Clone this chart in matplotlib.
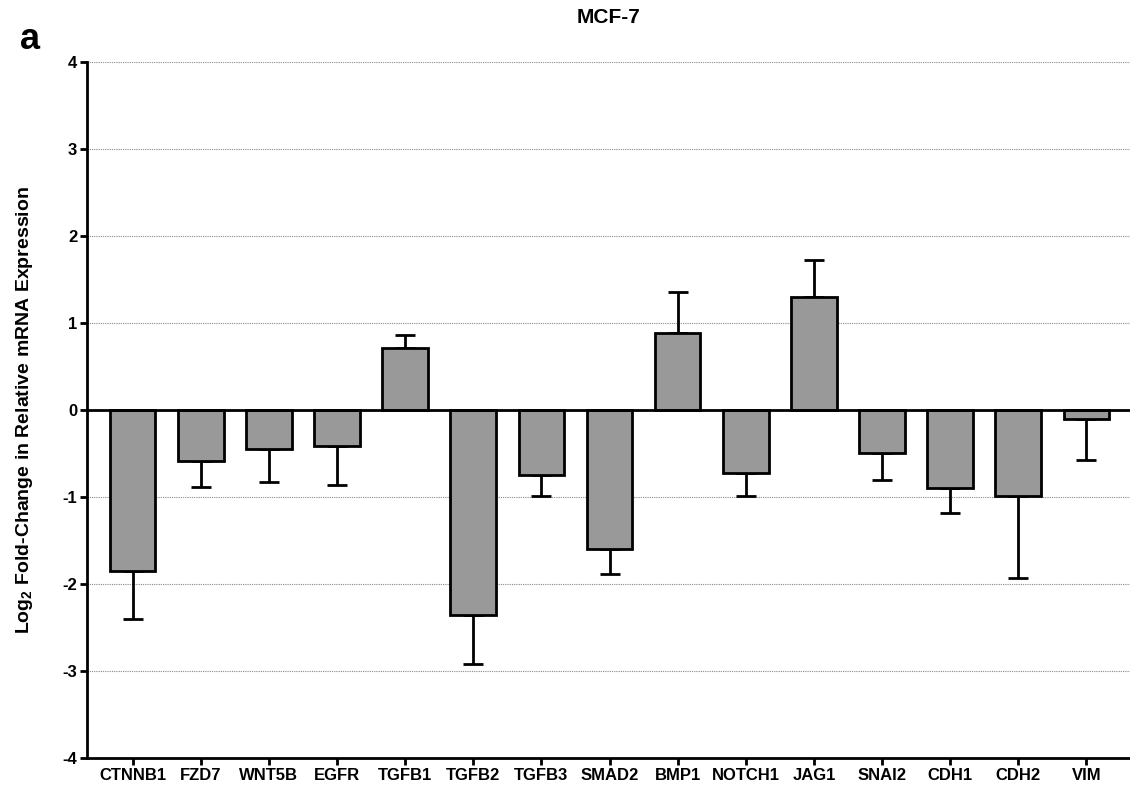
import matplotlib
matplotlib.use('agg')
import matplotlib.pyplot as plt
import numpy as np

plt.rcParams['font.family'] = ['Liberation Sans', 'DejaVu Sans']
plt.rcParams['font.weight'] = 'bold'
plt.rcParams['mathtext.fontset'] = 'custom'
plt.rcParams['mathtext.bf'] = 'Liberation Sans:bold'
plt.rcParams['mathtext.rm'] = 'Liberation Sans:bold'

# gene names and log2 fold-change (mean, one-sided error)
genes = ['CTNNB1', 'FZD7', 'WNT5B', 'EGFR', 'TGFB1', 'TGFB2', 'TGFB3', 'SMAD2',
         'BMP1', 'NOTCH1', 'JAG1', 'SNAI2', 'CDH1', 'CDH2', 'VIM']
means = [-1.85, -0.585, -0.45, -0.41, 0.71, -2.36, -0.745, -1.60,
         0.89, -0.72, 1.30, -0.49, -0.90, -0.99, -0.10]
errors = [0.55, 0.30, 0.38, 0.45, 0.15, 0.56, 0.245, 0.29,
          0.47, 0.265, 0.42, 0.31, 0.28, 0.94, 0.48]

x = np.arange(len(genes))
means = np.array(means)
errors = np.array(errors)

# errors only drawn away from zero
lower = np.where(means < 0, errors, 0)
upper = np.where(means >= 0, errors, 0)

fig = plt.figure(figsize=(11.3, 7.9), dpi=100)
ax = fig.add_axes([0.077, 0.0405, 0.923, 0.881])

for yv in [-4, -3, -2, -1, 1, 2, 3, 4]:
    ax.axhline(yv, color='#888888', linestyle=(0, (1, 1)), linewidth=0.8, zorder=0)

ax.errorbar(x, means, yerr=[lower, upper], fmt='none', ecolor='black',
            elinewidth=2, capsize=7, capthick=2, zorder=2)
ax.bar(x, means, width=0.67, color='#999999', edgecolor='black', linewidth=2, zorder=3)
ax.axhline(0, color='black', linewidth=2, zorder=4)

ax.set_xlim(-0.67, 14.64)
ax.set_ylim(-4, 4)
ax.set_yticks(range(-4, 5))
ax.set_xticks(x)
ax.set_xticklabels(genes, fontsize=12, fontweight='bold')
ax.set_yticklabels([str(v) for v in range(-4, 5)], fontsize=12, fontweight='bold')
ax.tick_params(axis='both', width=2, length=5, direction='out', pad=2)

for s in ['top', 'right']:
    ax.spines[s].set_visible(False)
for s in ['left', 'bottom']:
    ax.spines[s].set_linewidth(2)

ax.set_ylabel(r'Log$_\mathbf{2}$ Fold-Change in Relative mRNA Expression',
              fontsize=14, fontweight='bold', labelpad=20)
ax.set_title('MCF-7', fontsize=15, fontweight='bold', pad=28)
fig.text(0.018, 0.950, 'a', fontsize=26, fontweight='bold', va='center')

fig.savefig('out.png', dpi=100)
